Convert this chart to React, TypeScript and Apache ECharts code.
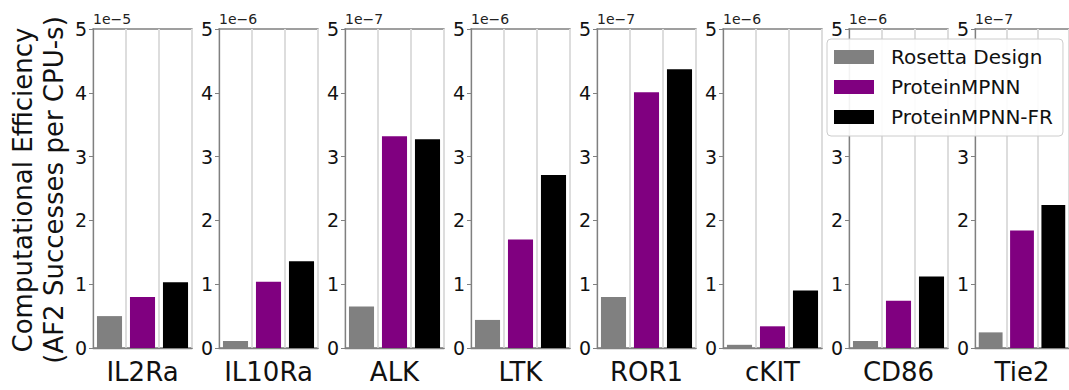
import React, { useEffect, useRef } from "react";
import * as echarts from "echarts";

const panels = ["IL2Ra", "IL10Ra", "ALK", "LTK", "ROR1", "cKIT", "CD86", "Tie2"];
const scaleLabels = ["1e\u22125", "1e\u22126", "1e\u22127", "1e\u22126", "1e\u22127", "1e\u22126", "1e\u22126", "1e\u22127"];
const methods = ["Rosetta Design", "ProteinMPNN", "ProteinMPNN-FR"];
const rosetta = [0.5, 0.11, 0.65, 0.44, 0.8, 0.05, 0.11, 0.245];
const proteinMPNN = [0.8, 1.04, 3.32, 1.7, 4.01, 0.34, 0.74, 1.84];
const proteinMPNNFR = [1.03, 1.36, 3.27, 2.71, 4.37, 0.9, 1.12, 2.24];
const yTicks = [0, 1, 2, 3, 4, 5];
// tick labels hidden under the legend box (panels CD86 and Tie2)
const hiddenUnderLegend: Record<number, number[]> = { 6: [4], 7: [4] };

const colors = ["#808080", "#800080", "#000000"];
const FONT = "DejaVu Sans";

export default function App() {
  const ref = useRef<HTMLDivElement>(null);
  useEffect(() => {
    const chart = echarts.init(ref.current!, null, { renderer: "svg" });
    const seriesValues = [rosetta, proteinMPNN, proteinMPNNFR];
    const left0 = 93;
    const step = 126;
    const width = 99;
    const grids: any[] = [];
    const xAxes: any[] = [];
    const yAxes: any[] = [];
    const series: any[] = [];
    panels.forEach((p, i) => {
      grids.push({
        left: left0 + step * i,
        top: 29,
        width,
        height: 321,
        show: true,
        borderColor: "#808080",
        borderWidth: 1.3,
        backgroundColor: "transparent",
      });
      xAxes.push({
        type: "category",
        gridIndex: i,
        data: methods,
        axisLine: { show: true, lineStyle: { color: "#808080", width: 1.3 } },
        axisTick: { show: false },
        axisLabel: { show: false },
        splitLine: { show: true, interval: 0, lineStyle: { color: "#dddddd", width: 2 } },
        name: p,
        nameLocation: "middle",
        nameGap: 11,
        nameTextStyle: { fontFamily: FONT, fontSize: 26, color: "#111", verticalAlign: "top" },
      });
      const hidden = hiddenUnderLegend[i] || [];
      yAxes.push({
        type: "value",
        gridIndex: i,
        min: yTicks[0],
        max: yTicks[yTicks.length - 1],
        interval: 1,
        axisLine: { show: true, lineStyle: { color: "#808080", width: 1.3 } },
        axisTick: { show: true, length: 4, lineStyle: { color: "#808080" } },
        axisLabel: {
          fontFamily: FONT,
          fontSize: 19,
          color: "#111",
          margin: 6,
          formatter: (v: number) => (hidden.indexOf(v) >= 0 ? "" : String(v)),
        },
        splitLine: { show: false },
        name: scaleLabels[i],
        nameLocation: "end",
        nameGap: 3,
        nameTextStyle: { fontFamily: FONT, fontSize: 14, color: "#222", align: "left", verticalAlign: "bottom" },
      });
      methods.forEach((m, k) => {
        const data = methods.map((_, j) => (j === k ? seriesValues[k][i] : "-"));
        series.push({
          type: "bar",
          name: m,
          xAxisIndex: i,
          yAxisIndex: i,
          stack: "panel" + i,
          barWidth: "76%",
          data,
          itemStyle: { color: colors[k] },
        });
      });
    });

    chart.setOption({
      animation: false,
      grid: grids,
      xAxis: xAxes,
      yAxis: yAxes,
      series,
      legend: {
        orient: "vertical",
        left: 827,
        top: 39,
        z: 10,
        data: methods,
        icon: "rect",
        itemWidth: 40,
        itemHeight: 14,
        itemGap: 10,
        padding: [8, 10, 9, 7],
        backgroundColor: "rgba(255,255,255,0.9)",
        borderColor: "#cccccc",
        borderWidth: 1,
        borderRadius: 4,
        textStyle: { fontFamily: FONT, fontSize: 20, color: "#111", padding: [0, 0, 0, 12] },
      },
      graphic: [
        {
          type: "text",
          x: 38,
          y: 190,
          rotation: Math.PI / 2,
          style: {
            text: "Computational Efficiency\n(AF2 Successes per CPU-s)",
            fontFamily: FONT,
            fontSize: 26,
            lineHeight: 31,
            fill: "#111",
            align: "center",
            verticalAlign: "middle",
          },
        },
      ],
    });
    return () => chart.dispose();
  }, []);
  return <div ref={ref} style={{ position: "absolute", left: 0, top: 0, width: 1069, height: 390 }} />;
}
